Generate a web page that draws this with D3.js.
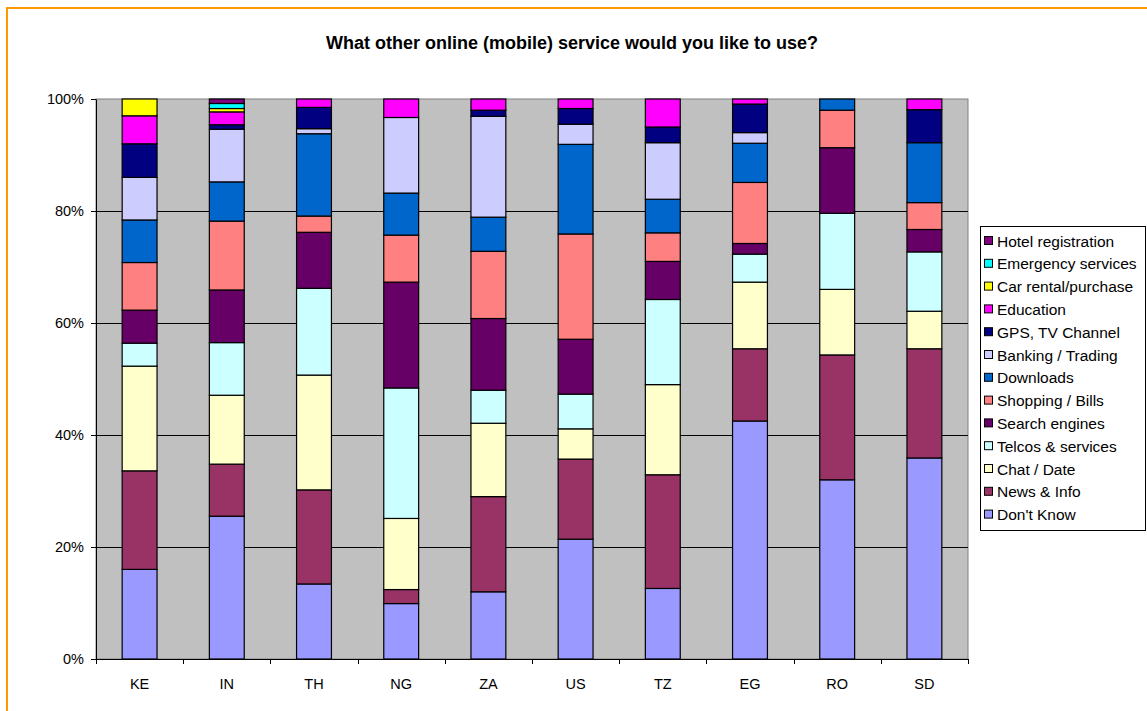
<!DOCTYPE html>
<html>
<head>
<meta charset="utf-8">
<script src="https://cdn.jsdelivr.net/npm/d3@7"></script>
<style>
  html, body { margin: 0; padding: 0; background: #fff; }
  svg { display: block; font-family: "Liberation Sans", Arial, sans-serif; }
</style>
</head>
<body>
<svg id="chart" width="1147" height="711"></svg>
<script>
// Countries along the category axis
const countries = ["KE", "IN", "TH", "NG", "ZA", "US", "TZ", "EG", "RO", "SD"];

// Share of answers (%) per country, one array per service
const dontKnow   = [16.0, 25.5, 13.4,  9.9, 12.0, 21.4, 12.6, 42.5, 32.0, 35.9];
const newsInfo   = [17.6,  9.3, 16.8,  2.5, 17.0, 14.3, 20.3, 12.9, 22.3, 19.5];
const chatDate   = [18.7, 12.3, 20.5, 12.7, 13.1,  5.4, 16.1, 11.9, 11.7,  6.7];
const telcos     = [ 4.1,  9.4, 15.5, 23.3,  5.9,  6.2, 15.2,  5.0, 13.6, 10.6];
const search     = [ 5.9,  9.4, 10.0, 18.9, 12.8,  9.8,  6.8,  1.9, 11.7,  4.0];
const shopping   = [ 8.5, 12.3,  2.9,  8.4, 12.0, 18.8,  5.1, 10.9,  6.7,  4.8];
const downloads  = [ 7.6,  7.0, 14.7,  7.5,  6.1, 16.0,  6.0,  7.0,  2.0, 10.7];
const banking    = [ 7.6,  9.4,  0.9, 13.5, 18.0,  3.6, 10.1,  1.9,  0.0,  0.0];
const gpsTv      = [ 6.0,  0.8,  3.8,  0.0,  1.1,  2.8,  2.8,  5.1,  0.0,  5.9];
const education  = [ 5.0,  2.3,  1.5,  3.3,  2.0,  1.7,  5.0,  0.9,  0.0,  1.9];
const carRental  = [ 3.0,  0.6,  0.0,  0.0,  0.0,  0.0,  0.0,  0.0,  0.0,  0.0];
const emergency  = [ 0.0,  0.9,  0.0,  0.0,  0.0,  0.0,  0.0,  0.0,  0.0,  0.0];
const hotel      = [ 0.0,  0.8,  0.0,  0.0,  0.0,  0.0,  0.0,  0.0,  0.0,  0.0];

// Series names, stacked from the bottom up
const seriesNames = ["Don't Know", "News & Info", "Chat / Date", "Telcos & services",
  "Search engines", "Shopping / Bills", "Downloads", "Banking / Trading",
  "GPS, TV Channel", "Education", "Car rental/purchase", "Emergency services",
  "Hotel registration"];
const seriesValues = [dontKnow, newsInfo, chatDate, telcos, search, shopping,
  downloads, banking, gpsTv, education, carRental, emergency, hotel];
const seriesColors = ["#9999FF", "#993366", "#FFFFCC", "#CCFFFF", "#660066",
  "#FF8080", "#0066CC", "#CCCCFF", "#000080", "#FF00FF", "#FFFF00", "#00FFFF",
  "#800080"];

const yTicks = [0, 0.2, 0.4, 0.6, 0.8, 1.0];

const svg = d3.select("#chart");

// Chart frame
svg.append("rect")
  .attr("x", 7).attr("y", 8).attr("width", 1160).attr("height", 720)
  .attr("fill", "#fff").attr("stroke", "#FF9900").attr("stroke-width", 2);

svg.append("text")
  .attr("x", 572).attr("y", 49)
  .attr("text-anchor", "middle")
  .attr("font-size", 18).attr("font-weight", "bold")
  .text("What other online (mobile) service would you like to use?");

const plot = { left: 96, right: 968, top: 99, bottom: 659 };

const x = d3.scaleBand()
  .domain(countries)
  .range([plot.left, plot.right])
  .paddingInner(0.6)
  .paddingOuter(0.3);

const y = d3.scaleLinear().domain([0, 1]).range([plot.bottom, plot.top]);

// Build rows for the stack
const rows = countries.map((c, i) => {
  const r = { country: c };
  seriesNames.forEach((s, j) => { r[s] = seriesValues[j][i]; });
  return r;
});

const stacked = d3.stack()
  .keys(seriesNames)
  .offset(d3.stackOffsetExpand)(rows);

// Plot background
svg.append("rect")
  .attr("x", plot.left).attr("y", plot.top)
  .attr("width", plot.right - plot.left).attr("height", plot.bottom - plot.top)
  .attr("fill", "#C0C0C0").attr("stroke", "#808080").attr("stroke-width", 1);

// Horizontal gridlines
svg.append("g")
  .selectAll("line")
  .data(yTicks.filter(t => t > 0 && t < 1))
  .join("line")
  .attr("x1", plot.left).attr("x2", plot.right)
  .attr("y1", d => Math.round(y(d)) + 0.5).attr("y2", d => Math.round(y(d)) + 0.5)
  .attr("stroke", "#000").attr("stroke-width", 1);

// Stacked bars
const layers = svg.append("g")
  .selectAll("g")
  .data(stacked)
  .join("g")
  .attr("fill", (d, i) => seriesColors[i]);

layers.selectAll("rect")
  .data(d => d.filter(p => p[1] - p[0] > 0))
  .join("rect")
  .attr("x", d => x(d.data.country))
  .attr("width", x.bandwidth())
  .attr("y", d => y(d[1]))
  .attr("height", d => y(d[0]) - y(d[1]))
  .attr("stroke", "#000").attr("stroke-width", 1.2);

// Y axis
const yAxis = svg.append("g")
  .attr("transform", `translate(${plot.left},0)`)
  .call(d3.axisLeft(y).tickValues(yTicks).tickFormat(d3.format(".0%"))
    .tickSize(5).tickSizeOuter(0).tickPadding(7));
yAxis.selectAll("text").attr("font-size", 14.5).attr("fill", "#000")
  .style("font-family", '"Liberation Sans", Arial, sans-serif');
yAxis.selectAll("line, path").attr("stroke", "#000");

// X axis: labels centred on categories, tick marks between them
const xAxis = svg.append("g")
  .attr("transform", `translate(0,${plot.bottom})`)
  .call(d3.axisBottom(x).tickSize(0).tickSizeOuter(0).tickPadding(20));
xAxis.selectAll("text").attr("font-size", 14.5).attr("fill", "#000")
  .style("font-family", '"Liberation Sans", Arial, sans-serif');
xAxis.select("path").attr("stroke", "#000");

const boundaries = d3.range(countries.length + 1)
  .map(i => plot.left + i * x.step());
xAxis.selectAll(".sep")
  .data(boundaries)
  .join("line")
  .attr("class", "sep")
  .attr("x1", d => Math.round(d) + 0.5).attr("x2", d => Math.round(d) + 0.5)
  .attr("y1", 0).attr("y2", 5)
  .attr("stroke", "#000");

// Legend, listed top-down from the topmost series
const legend = svg.append("g");
legend.append("rect")
  .attr("x", 980.5).attr("y", 226.5).attr("width", 165).attr("height", 304)
  .attr("fill", "#fff").attr("stroke", "#000");

const legendOrder = seriesNames.map((s, i) => i).reverse();
const item = legend.selectAll("g.item")
  .data(legendOrder)
  .join("g")
  .attr("class", "item")
  .attr("transform", (d, k) => `translate(984, ${241 + k * 22.8})`);

item.append("rect")
  .attr("x", 0.5).attr("y", -4.5).attr("width", 8).attr("height", 8)
  .attr("fill", d => seriesColors[d]).attr("stroke", "#000");

item.append("text")
  .attr("x", 13).attr("y", 5.5)
  .attr("font-size", 15.5)
  .text(d => seriesNames[d]);
</script>
</body>
</html>
